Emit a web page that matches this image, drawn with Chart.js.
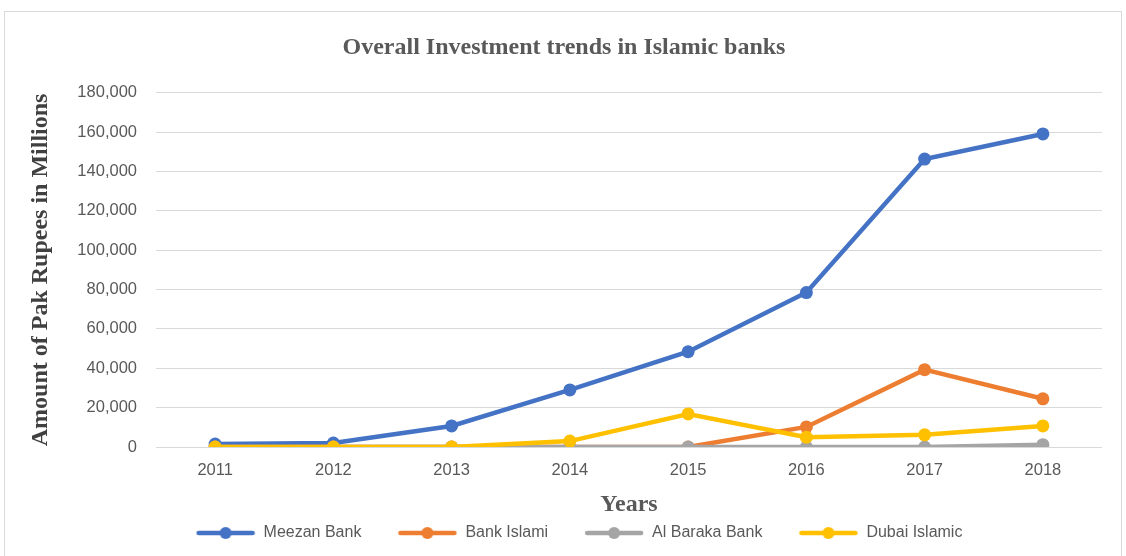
<!DOCTYPE html>
<html><head><meta charset="utf-8">
<script src="https://cdn.jsdelivr.net/npm/chart.js@4.4.1/dist/chart.umd.min.js"></script>
<style>
html,body{margin:0;padding:0;background:#fff;}
#wrap{position:absolute;left:0;top:0;width:1126px;height:556px;}
#frame{position:absolute;left:4px;top:11px;width:1118px;height:550px;border:1px solid #d9d9d9;box-sizing:border-box;}
</style></head><body>
<div id="frame"></div>
<div id="wrap"><canvas id="c" width="1126" height="556"></canvas></div>
<script>
const years = ['2011','2012','2013','2014','2015','2016','2017','2018'];
const meezan = [1500, 2000, 10700, 29000, 48400, 78500, 146300, 159100];
const bankIslami = [0, 0, 0, 0, 0, 10200, 39300, 24500];
const alBaraka = [0, 0, 0, 0, 0, 0, 0, 1200];
const dubaiIslamic = [0, 0, 0, 3000, 16800, 5000, 6200, 10700];
const seriesNames = ['Meezan Bank','Bank Islami','Al Baraka Bank','Dubai Islamic'];
const colors = ['#4472c4','#ed7d31','#a5a5a5','#ffc000'];

const ICON_MARGIN = 30;
const ICON_W = 60;
function legendIcon(col){
  const c=document.createElement('canvas'); c.width=ICON_W+ICON_MARGIN; c.height=14;
  const g=c.getContext('2d');
  const o=ICON_MARGIN;
  g.strokeStyle=col; g.lineWidth=4.5; g.lineCap='round';
  g.beginPath(); g.moveTo(o+3,7); g.lineTo(o+ICON_W-3,7); g.stroke();
  g.fillStyle=col; g.beginPath(); g.arc(o+ICON_W/2,7,6,0,Math.PI*2); g.fill();
  return c;
}
const icons = colors.map(legendIcon);
const allData=[meezan,bankIslami,alBaraka,dubaiIslamic];
const datasets = allData.map((d,i)=>({
  label: seriesNames[i], data: d, borderColor: colors[i], backgroundColor: colors[i],
  borderWidth: 4.5, pointRadius: 6.5, pointHoverRadius: 6.5, pointBackgroundColor: colors[i],
  pointBorderWidth: 0, tension: 0, order: 3-i
}));
const sans = 'Liberation Sans';
new Chart(document.getElementById('c'), {
  type:'line',
  data:{labels:years, datasets},
  options:{
    responsive:false, animation:false,
    layout:{padding:{left:26,right:24,top:0,bottom:5}},
    plugins:{
      tooltip:{enabled:false},
      title:{display:true, text:'Overall Investment trends in Islamic banks', color:'#595959',
        font:{family:'Liberation Serif', size:24, weight:'bold'}, padding:{top:33,bottom:31}},
      legend:{position:'bottom',
        labels:{usePointStyle:true, pointStyleWidth:ICON_W+ICON_MARGIN, color:'#595959', font:{family:sans, size:16}, padding:6, boxHeight:14,
          generateLabels:(chart)=>chart.data.datasets.map((ds,i)=>({
            text: ds.label, pointStyle: icons[i], fillStyle: colors[i], strokeStyle: colors[i], lineWidth:0,
            hidden:false, datasetIndex:i, fontColor:'#595959'}))
        }
      }
    },
    scales:{
      x:{
        offset:true,
        afterFit:(s)=>{ s.height = 72; },
        grid:{display:false, drawTicks:false},
        border:{display:false},
        ticks:{color:'#595959', font:{family:sans, size:16.5}, padding:14},
        title:{display:true, text:'Years', color:'#595959', font:{family:'Liberation Serif', size:24, weight:'bold'}, padding:{top:0,bottom:0}}
      },
      y:{
        min:0, max:180000,
        afterFit:(s)=>{ s.width = 130; },
        grid:{color:'#d9d9d9', lineWidth:1, drawTicks:false},
        border:{display:false},
        ticks:{stepSize:20000, color:'#595959', font:{family:sans, size:16.5}, padding:19,
          callback:(v)=>v.toLocaleString('en-US')},
        title:{display:true, text:'Amount of Pak Rupees in Millions', color:'#404040', font:{family:'Liberation Serif', size:24, weight:'bold'}, padding:{top:0,bottom:0}}
      }
    }
  }
});
</script>
</body></html>
